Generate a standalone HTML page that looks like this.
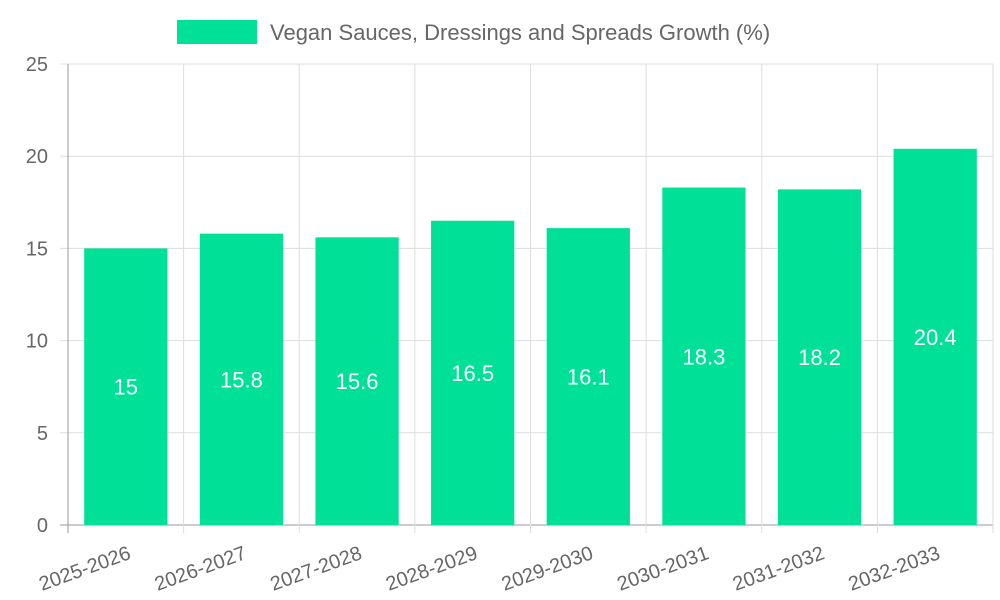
<!DOCTYPE html>
<html><head><meta charset="utf-8"><style>
html,body{margin:0;padding:0;background:#fff;}
svg{display:block;font-family:"Liberation Sans",sans-serif;}
</style></head><body>
<svg id="chart" width="1000" height="600">
<g>
<rect x="177" y="20" width="80" height="24" fill="#00e096"></rect>
<text x="270" y="40" font-size="22" fill="#666">Vegan Sauces, Dressings and Spreads Growth (%)</text>
</g>
<g id="grid"></g>
<g id="bars"></g>
<g id="axes"></g>
</svg>
<script>
const categories = ["2025-2026","2026-2027","2027-2028","2028-2029","2029-2030","2030-2031","2031-2032","2032-2033"];
const values = [15,15.8,15.6,16.5,16.1,18.3,18.2,20.4];
const yTicks = [0,5,10,15,20,25];
const NS="http://www.w3.org/2000/svg";
const L=68,R=993,T=64,B=525,yMax=25;
const cw=(R-L)/categories.length;
const y=v=>B-(v/yMax)*(B-T);
const x=i=>L+cw*i;
function mk(tag,attrs,parent){const e=document.createElementNS(NS,tag);for(const k in attrs)e.setAttribute(k,attrs[k]);parent.appendChild(e);return e;}
const grid=document.getElementById('grid'),bars=document.getElementById('bars'),axes=document.getElementById('axes');
yTicks.forEach(t=>{
  const ln=mk('line',{x1:L-8,x2:R,y1:y(t),y2:y(t),stroke:t===0?'#999':'#ddd','stroke-width':1},grid);
  
  
  const tx=mk('text',{x:L-20,y:y(t)+7,'text-anchor':'end','font-size':20,fill:'#666'},axes);
  tx.textContent=t;
  
  
});
for(let i=0;i<=categories.length;i++){
  const ln=mk('line',{x1:x(i),x2:x(i),y1:T,y2:B+8,stroke:i===0?'#999':'#ddd','stroke-width':1},grid);
  
  
}
categories.forEach((c,i)=>{
  const bw=cw*0.72,bx=x(i)+(cw-bw)/2;
  const r=mk('rect',{x:bx,y:y(values[i]),width:bw,height:B-y(values[i]),fill:'#00e096'},bars);
  
  
  const v=mk('text',{x:x(i)+cw/2,y:(y(values[i])+B)/2+8,'text-anchor':'middle','font-size':22,fill:'#fff'},bars);
  v.textContent=values[i];
  
  
  const cx=x(i)+cw/2+2,cy=B+22;
  const tl=mk('text',{x:cx,y:cy+12,'text-anchor':'end','font-size':20,fill:'#666',transform:`rotate(-20 ${cx} ${cy})`},axes);
  tl.textContent=c;
  
  
});
</script>
</body></html>
